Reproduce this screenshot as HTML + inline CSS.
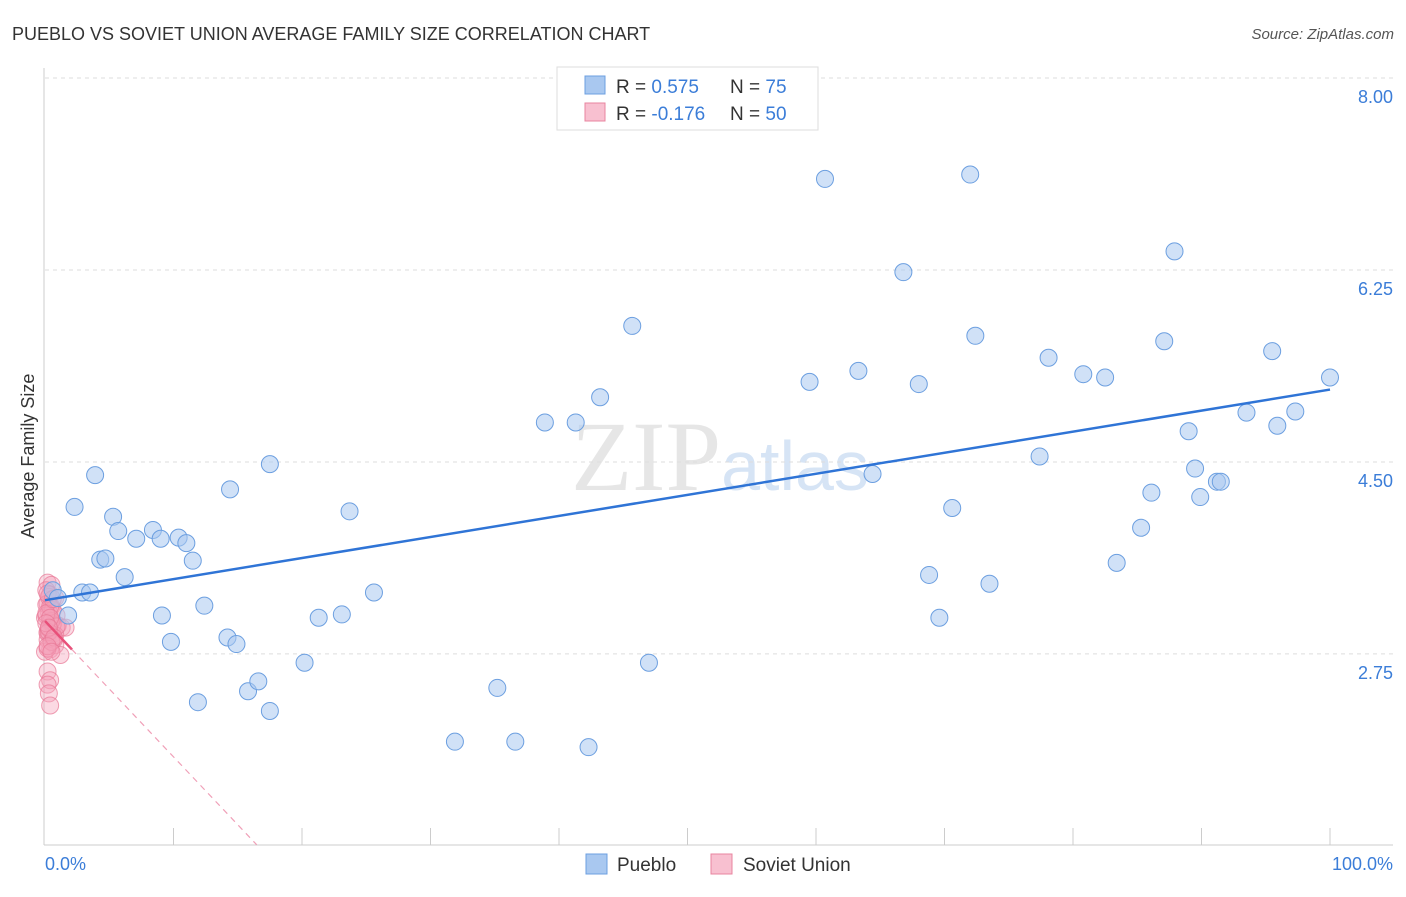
<!DOCTYPE html>
<html><head><meta charset="utf-8"><style>
body{margin:0;background:#fff;font-family:"Liberation Sans",sans-serif}
</style></head><body>
<svg id="chart" width="1406" height="892" xmlns="http://www.w3.org/2000/svg" font-family="Liberation Sans, sans-serif">
<text x="12" y="40" font-size="18" fill="#333">PUEBLO VS SOVIET UNION AVERAGE FAMILY SIZE CORRELATION CHART</text>
<text x="1394" y="39" font-size="15" fill="#555" font-style="italic" text-anchor="end">Source: ZipAtlas.com</text>
<text x="720" y="490" font-size="100" fill="#e6e6e6" text-anchor="middle" font-family="Liberation Serif, serif">ZIP<tspan fill="#d6e4f5" font-family="Liberation Sans, sans-serif" font-size="70">atlas</tspan></text>
<g id="grid"></g>
<line x1="44" y1="68" x2="44" y2="845" stroke="#ccc"/>
<line x1="44" y1="845" x2="1393" y2="845" stroke="#ccc"/>
<text transform="translate(34,456) rotate(-90)" font-size="18" fill="#333" text-anchor="middle">Average Family Size</text>
<text x="45" y="870" font-size="18" fill="#3b7dd8">0.0%</text>
<text x="1393" y="870" font-size="18" fill="#3b7dd8" text-anchor="end">100.0%</text>
<g id="marks"></g>
<g>
<rect x="557" y="67" width="261" height="63" fill="#fff" stroke="#ddd"/>
<rect x="585" y="76" width="20" height="18" fill="#a9c8f0" stroke="#6c9fe0"/>
<rect x="585" y="103" width="20" height="18" fill="#f8c0d0" stroke="#e8849f"/>
<text x="616" y="93" font-size="19" fill="#333">R = <tspan fill="#3b7dd8">0.575</tspan><tspan x="730">N = </tspan><tspan fill="#3b7dd8">75</tspan></text>
<text x="616" y="120" font-size="19" fill="#333">R = <tspan fill="#3b7dd8">-0.176</tspan><tspan x="730">N = </tspan><tspan fill="#3b7dd8">50</tspan></text>
</g>
<g><rect x="586" y="854" width="21" height="20" fill="#a9c8f0" stroke="#6c9fe0"/><text x="617" y="871" font-size="19" fill="#333">Pueblo</text></g>
<g><rect x="711" y="854" width="21" height="20" fill="#f8c0d0" stroke="#e8849f"/><text x="743" y="871" font-size="19" fill="#333">Soviet Union</text></g>
</svg>
<script>
const yTicks=[2.75,4.50,6.25,8.00];
const blueX=[0.6,1.0,1.8,2.3,2.9,3.5,3.9,4.3,4.7,5.3,5.7,6.2,7.1,8.4,9.0,9.1,9.8,10.4,11.0,11.5,12.4,14.2,14.4,14.9,15.8,16.6,17.5,17.5,11.9,20.2,21.3,23.1,23.7,25.6,31.9,35.2,36.6,38.9,41.3,42.3,43.2,45.7,47.0,59.5,60.7,63.3,64.4,66.8,68.0,68.8,69.6,70.6,72.0,72.4,73.5,77.4,78.1,80.8,82.5,83.4,85.3,86.1,87.1,87.9,89.0,89.5,89.9,91.2,91.5,93.5,95.5,95.9,97.3,100.0];
const blueY=[3.33,3.26,3.10,4.09,3.31,3.31,4.38,3.61,3.62,4.00,3.87,3.45,3.80,3.88,3.80,3.10,2.86,3.81,3.76,3.60,3.19,2.90,4.25,2.84,2.41,2.50,4.48,2.23,2.31,2.67,3.08,3.11,4.05,3.31,1.95,2.44,1.95,4.86,4.86,1.90,5.09,5.74,2.67,5.23,7.08,5.33,4.39,6.23,5.21,3.47,3.08,4.08,7.12,5.65,3.39,4.55,5.45,5.30,5.27,3.58,3.90,4.22,5.60,6.42,4.78,4.44,4.18,4.32,4.32,4.95,5.51,4.83,4.96,5.27];
const pinkX=[0.2,0.5,0.1,0.4,0.8,0.2,0.5,0.3,0.9,0.0,0.4,1.0,1.3,1.6,0.2,0.6,0.2,0.8,0.4,0.0,1.2,0.2,0.4,0.2,0.3,0.4,0.1,0.6,0.2,0.8,0.3,0.6,0.1,0.5,0.3,0.7,0.2,0.4,0.1,0.9,0.3,0.5,0.2,0.6,0.4,0.1,0.3,0.7,0.2,0.5];
const pinkY=[3.40,3.38,3.33,3.29,3.26,3.21,3.18,3.13,3.10,3.08,3.04,3.01,2.99,2.99,2.95,2.93,2.88,2.83,2.79,2.77,2.74,2.59,2.51,2.47,2.39,2.28,3.20,3.02,2.94,2.92,3.27,3.15,3.10,3.05,2.98,2.88,2.80,3.18,3.12,3.00,2.95,2.86,3.30,3.25,3.08,3.03,2.99,2.90,2.82,2.77];
const blueLine=[3.24,5.16];
const pinkLine=[3.05,2.79,1.01];
const ns="http://www.w3.org/2000/svg";
const X=v=>45+v*12.85;
const Y=v=>78+(8-v)*109.7;
const grid=document.getElementById('grid'),marks=document.getElementById('marks');
function mk(t,a,p){const e=document.createElementNS(ns,t);for(const k in a)e.setAttribute(k,a[k]);p.appendChild(e);return e;}
yTicks.forEach(v=>{
 const l=mk('line',{x1:45,x2:1393,y1:Y(v),y2:Y(v),stroke:'#ddd','stroke-dasharray':'4,4'},grid);
 
 
 const t=mk('text',{x:1393,y:Y(v)+25,'font-size':18,fill:'#3b7dd8','text-anchor':'end'},grid);
 t.textContent=v.toFixed(2);
 
 
});
for(let i=1;i<=10;i++){
 const l=mk('line',{x1:X(i*10),x2:X(i*10),y1:828,y2:845,stroke:'#ccc'},grid);
 
 
}
pinkX.forEach((x,i)=>{
 const c=mk('circle',{cx:X(x),cy:Y(pinkY[i]),r:8.5,fill:'rgba(245,160,185,0.4)',stroke:'rgba(232,120,150,0.7)','stroke-width':1},marks);
 
 
});
blueX.forEach((x,i)=>{
 const c=mk('circle',{cx:X(x),cy:Y(blueY[i]),r:8.5,fill:'rgba(169,200,240,0.55)',stroke:'#6c9fe0','stroke-width':1},marks);
 
 
});
const bl=mk('line',{x1:X(0),y1:Y(blueLine[0]),x2:X(100),y2:Y(blueLine[1]),stroke:'#2f74d6','stroke-width':2.5},marks);


const pl=mk('line',{x1:X(0),y1:Y(pinkLine[0]),x2:X(2.1),y2:Y(pinkLine[1]),stroke:'#e8507a','stroke-width':2.5},marks);


const slope=(pinkLine[1]-pinkLine[0])/2.1;
const xe=(pinkLine[2]-pinkLine[0])/slope;
const pd=mk('line',{x1:X(2.1),y1:Y(pinkLine[1]),x2:X(xe),y2:Y(pinkLine[2]),stroke:'#f0a0b8','stroke-width':1.2,'stroke-dasharray':'6,5'},marks);


</script>
</body></html>
